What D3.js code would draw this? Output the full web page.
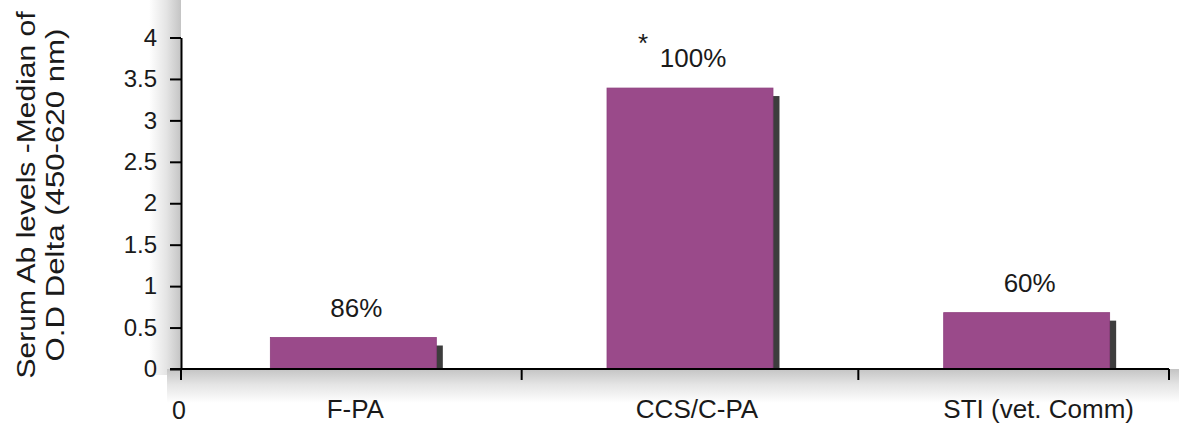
<!DOCTYPE html>
<html>
<head>
<meta charset="utf-8">
<script src="https://cdn.jsdelivr.net/npm/d3@7"></script>
<style>
  html, body { margin: 0; padding: 0; background: #ffffff; }
  svg { display: block; font-family: "Liberation Sans", Arial, sans-serif; }
</style>
</head>
<body>
<svg id="chart" width="1180" height="427"></svg>
<script>
// Serum antibody levels per group (median O.D delta, 450-620 nm)
const categories = ["F-PA", "CCS/C-PA", "STI (vet. Comm)"];
const medianOD = [0.38, 3.39, 0.68];
const responderPct = ["86%", "100%", "60%"];
const significance = ["", "*", ""];
const yTicks = [0, 0.5, 1, 1.5, 2, 2.5, 3, 3.5, 4];
const originLabel = "0";
const yTitleLines = ["Serum Ab levels -Median of", "O.D Delta (450-620 nm)"];

const svg = d3.select("#chart");

// layout
const axisX0 = 181, axisX1 = 1169;
const plotTop = 37.5, plotBottom = 369;

const y = d3.scaleLinear().domain([0, 4]).range([plotBottom, plotTop]);
const x = d3.scaleBand()
  .domain(categories)
  .range([185, 1195])
  .paddingInner(0.507)
  .paddingOuter(0.2535);

const defs = svg.append("defs");
const gl = defs.append("linearGradient").attr("id", "shadeLeft")
  .attr("x1", "0").attr("x2", "1").attr("y1", "0").attr("y2", "0");
gl.append("stop").attr("offset", "0").attr("stop-color", "#ffffff");
gl.append("stop").attr("offset", "0.55").attr("stop-color", "#e4e4e4");
gl.append("stop").attr("offset", "1").attr("stop-color", "#c4c4c4");
const gb = defs.append("linearGradient").attr("id", "shadeBottom")
  .attr("x1", "0").attr("x2", "0").attr("y1", "0").attr("y2", "1");
gb.append("stop").attr("offset", "0").attr("stop-color", "#c4c4c4");
gb.append("stop").attr("offset", "0.45").attr("stop-color", "#e4e4e4");
gb.append("stop").attr("offset", "1").attr("stop-color", "#ffffff");

// soft shading along the axes
svg.append("rect")
  .attr("x", axisX0 - 32).attr("y", 0)
  .attr("width", 32).attr("height", plotBottom + 6)
  .attr("fill", "url(#shadeLeft)");
svg.append("rect")
  .attr("x", axisX0 - 14).attr("y", plotBottom)
  .attr("width", axisX1 - axisX0 + 24).attr("height", 34)
  .attr("fill", "url(#shadeBottom)");

// bar drop shadows
svg.append("g").selectAll("rect")
  .data(categories)
  .join("rect")
  .attr("x", d => x(d) + 6.5)
  .attr("y", (d, i) => y(medianOD[i]) + 8)
  .attr("width", x.bandwidth())
  .attr("height", (d, i) => Math.max(0, y(0) - y(medianOD[i]) - 8))
  .attr("fill", "#3d3d3d");

// bars
svg.append("g").selectAll("rect")
  .data(categories)
  .join("rect")
  .attr("x", d => x(d))
  .attr("y", (d, i) => y(medianOD[i]))
  .attr("width", x.bandwidth())
  .attr("height", (d, i) => y(0) - y(medianOD[i]))
  .attr("fill", "#9a4a8a")
  .attr("stroke", "#8d3f7e")
  .attr("stroke-width", 0.8);

// y axis
const yAxis = d3.axisLeft(y)
  .tickValues(yTicks)
  .tickFormat(d => String(d))
  .tickSize(11)
  .tickSizeOuter(0)
  .tickPadding(13);
const gy = svg.append("g")
  .attr("transform", `translate(${axisX0},0)`)
  .call(yAxis);
gy.select(".domain").attr("stroke", "#000").attr("stroke-width", 2);
gy.selectAll(".tick line").attr("stroke", "#000").attr("stroke-width", 2);
gy.selectAll(".tick text")
  .attr("fill", "#1a1a1a")
  .style("font-size", "24px")
  .style("font-family", "'Liberation Sans', Arial, sans-serif");

// x axis: baseline with ticks at category cell boundaries
const cellStarts = categories.map(c => x(c) - x.step() * x.paddingInner() / 2);
const xTickPos = [axisX0, ...cellStarts.slice(1), axisX1];
const gx = svg.append("g");
gx.append("line")
  .attr("x1", axisX0 - 11).attr("x2", axisX1)
  .attr("y1", y(0)).attr("y2", y(0))
  .attr("stroke", "#000").attr("stroke-width", 2);
gx.selectAll("line.xt")
  .data(xTickPos)
  .join("line")
  .attr("class", "xt")
  .attr("x1", d => d).attr("x2", d => d)
  .attr("y1", y(0)).attr("y2", y(0) + 11)
  .attr("stroke", "#000").attr("stroke-width", 2);

// x category labels
svg.append("g").selectAll("text")
  .data(categories)
  .join("text")
  .attr("x", (d, i) => x(d) + x.bandwidth() / 2 + 2 + i * 5)
  .attr("y", 418)
  .attr("text-anchor", "middle")
  .attr("fill", "#1a1a1a")
  .style("font-size", "26px")
  .text(d => d);

svg.append("text")
  .attr("x", axisX0 - 2)
  .attr("y", 419)
  .attr("text-anchor", "middle")
  .attr("fill", "#1a1a1a")
  .style("font-size", "25px")
  .text(originLabel);

// responder percentages above bars
svg.append("g").selectAll("text")
  .data(categories)
  .join("text")
  .attr("x", d => x(d) + x.bandwidth() / 2 + 3)
  .attr("y", (d, i) => y(medianOD[i]) - 21)
  .attr("text-anchor", "middle")
  .attr("fill", "#1a1a1a")
  .style("font-size", "26px")
  .text((d, i) => responderPct[i]);

// significance marker
svg.append("g").selectAll("text")
  .data(categories.filter((d, i) => significance[i]))
  .join("text")
  .attr("x", d => x(d) + 36)
  .attr("y", d => y(medianOD[categories.indexOf(d)]) - 36)
  .attr("text-anchor", "middle")
  .attr("fill", "#1a1a1a")
  .style("font-size", "26px")
  .text(d => significance[categories.indexOf(d)]);

// y axis title
const titleCy = 195;
const titleLens = [367, 333];
const titleBase = [35, 64];
yTitleLines.forEach((t, i) => {
  svg.append("text")
    .attr("transform", `translate(${titleBase[i]},${titleCy}) rotate(-90)`)
    .attr("text-anchor", "middle")
    .attr("fill", "#1a1a1a")
    .attr("textLength", titleLens[i])
    .attr("lengthAdjust", "spacingAndGlyphs")
    .style("font-size", "25px")
    .text(t);
});
</script>
</body>
</html>
